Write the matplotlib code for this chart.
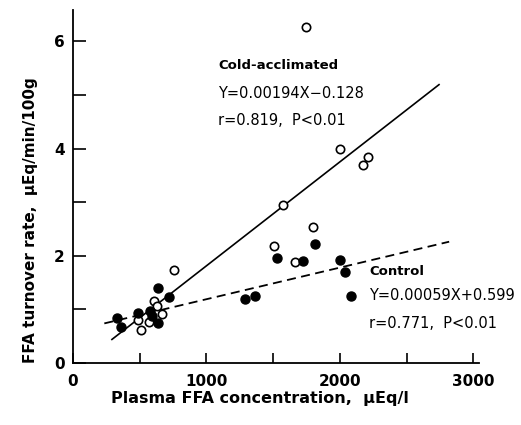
import numpy as np
import matplotlib
matplotlib.use("Agg")
import matplotlib.pyplot as plt

# cold-acclimated (open circles)
cold_x = [1745, 2000, 2172, 2212, 1575, 1797, 1505, 1665, 760,
          604, 630, 667, 490, 567, 510]
cold_y = [6.27, 3.99, 3.69, 3.84, 2.94, 2.53, 2.19, 1.88, 1.73,
          1.15, 1.07, 0.91, 0.81, 0.77, 0.62]

# control (filled circles)
ctrl_x = [1810, 1532, 1722, 1997, 2040, 2085, 1290, 1367, 722,
          637, 328, 360, 484, 580, 595, 640]
ctrl_y = [2.22, 1.96, 1.91, 1.92, 1.70, 1.25, 1.20, 1.24, 1.23,
          1.40, 0.84, 0.67, 0.94, 0.97, 0.87, 0.75]

# regression lines
cold_fit = (0.00194, -0.128)
cold_range = [292, 2742]
ctrl_fit = (0.00059, 0.599)
ctrl_range = [235, 2818]

fig = plt.figure(figsize=(5.21, 4.25), dpi=100)
ax = fig.add_axes([0.140, 0.146, 0.779, 0.830])

xr = np.array(cold_range)
ax.plot(xr, cold_fit[0]*xr + cold_fit[1], color='black', lw=1.2)
xr = np.array(ctrl_range)
ax.plot(xr, ctrl_fit[0]*xr + ctrl_fit[1], color='black', lw=1.3, ls=(0, (5, 3)))

ax.plot(cold_x, cold_y, 'o', mfc='white', mec='black', mew=1.2, ms=6)
ax.plot(ctrl_x, ctrl_y, 'o', mfc='black', mec='black', ms=6.5)

ax.set_xlim(0, 3040)
ax.set_ylim(0, 6.58)
ax.spines['top'].set_visible(False)
ax.spines['right'].set_visible(False)
ax.spines['left'].set_linewidth(1.3)
ax.spines['bottom'].set_linewidth(1.3)

ax.set_xticks([0, 1000, 2000, 3000])
ax.set_xticks([500, 1500, 2500], minor=True)
ax.set_yticks([0, 2, 4, 6])
ax.set_yticks([1, 3, 5], minor=True)
ax.tick_params(which='both', direction='in', width=1.2, labelsize=11)
ax.tick_params(axis='x', which='both', length=7, pad=8)
ax.tick_params(axis='y', which='both', length=9.5, pad=6)
for lab in ax.get_xticklabels() + ax.get_yticklabels():
    lab.set_fontweight('bold')

ax.set_xlabel('Plasma FFA concentration,  μEq/l', fontsize=11.5,
              fontweight='bold')
ax.set_ylabel('FFA turnover rate,  μEq/min/100g', fontsize=11,
              fontweight='bold')
ax.xaxis.set_label_coords(0.46, -0.08)
ax.yaxis.set_label_coords(-0.085, 0.405)

ax.text(1088, 5.54, 'Cold-acclimated', fontsize=9.5, fontweight='bold', va='center')
ax.text(1088, 5.03, 'Y=0.00194X−0.128', fontsize=10.5, va='center')
ax.text(1088, 4.53, 'r=0.819,  P<0.01', fontsize=10.5, va='center')
ax.text(2220, 1.70, 'Control', fontsize=9.5, fontweight='bold', va='center')
ax.text(2220, 1.25, 'Y=0.00059X+0.599', fontsize=10.5, va='center')
ax.text(2220, 0.73, 'r=0.771,  P<0.01', fontsize=10.5, va='center')

fig.savefig('out.png', dpi=100)
